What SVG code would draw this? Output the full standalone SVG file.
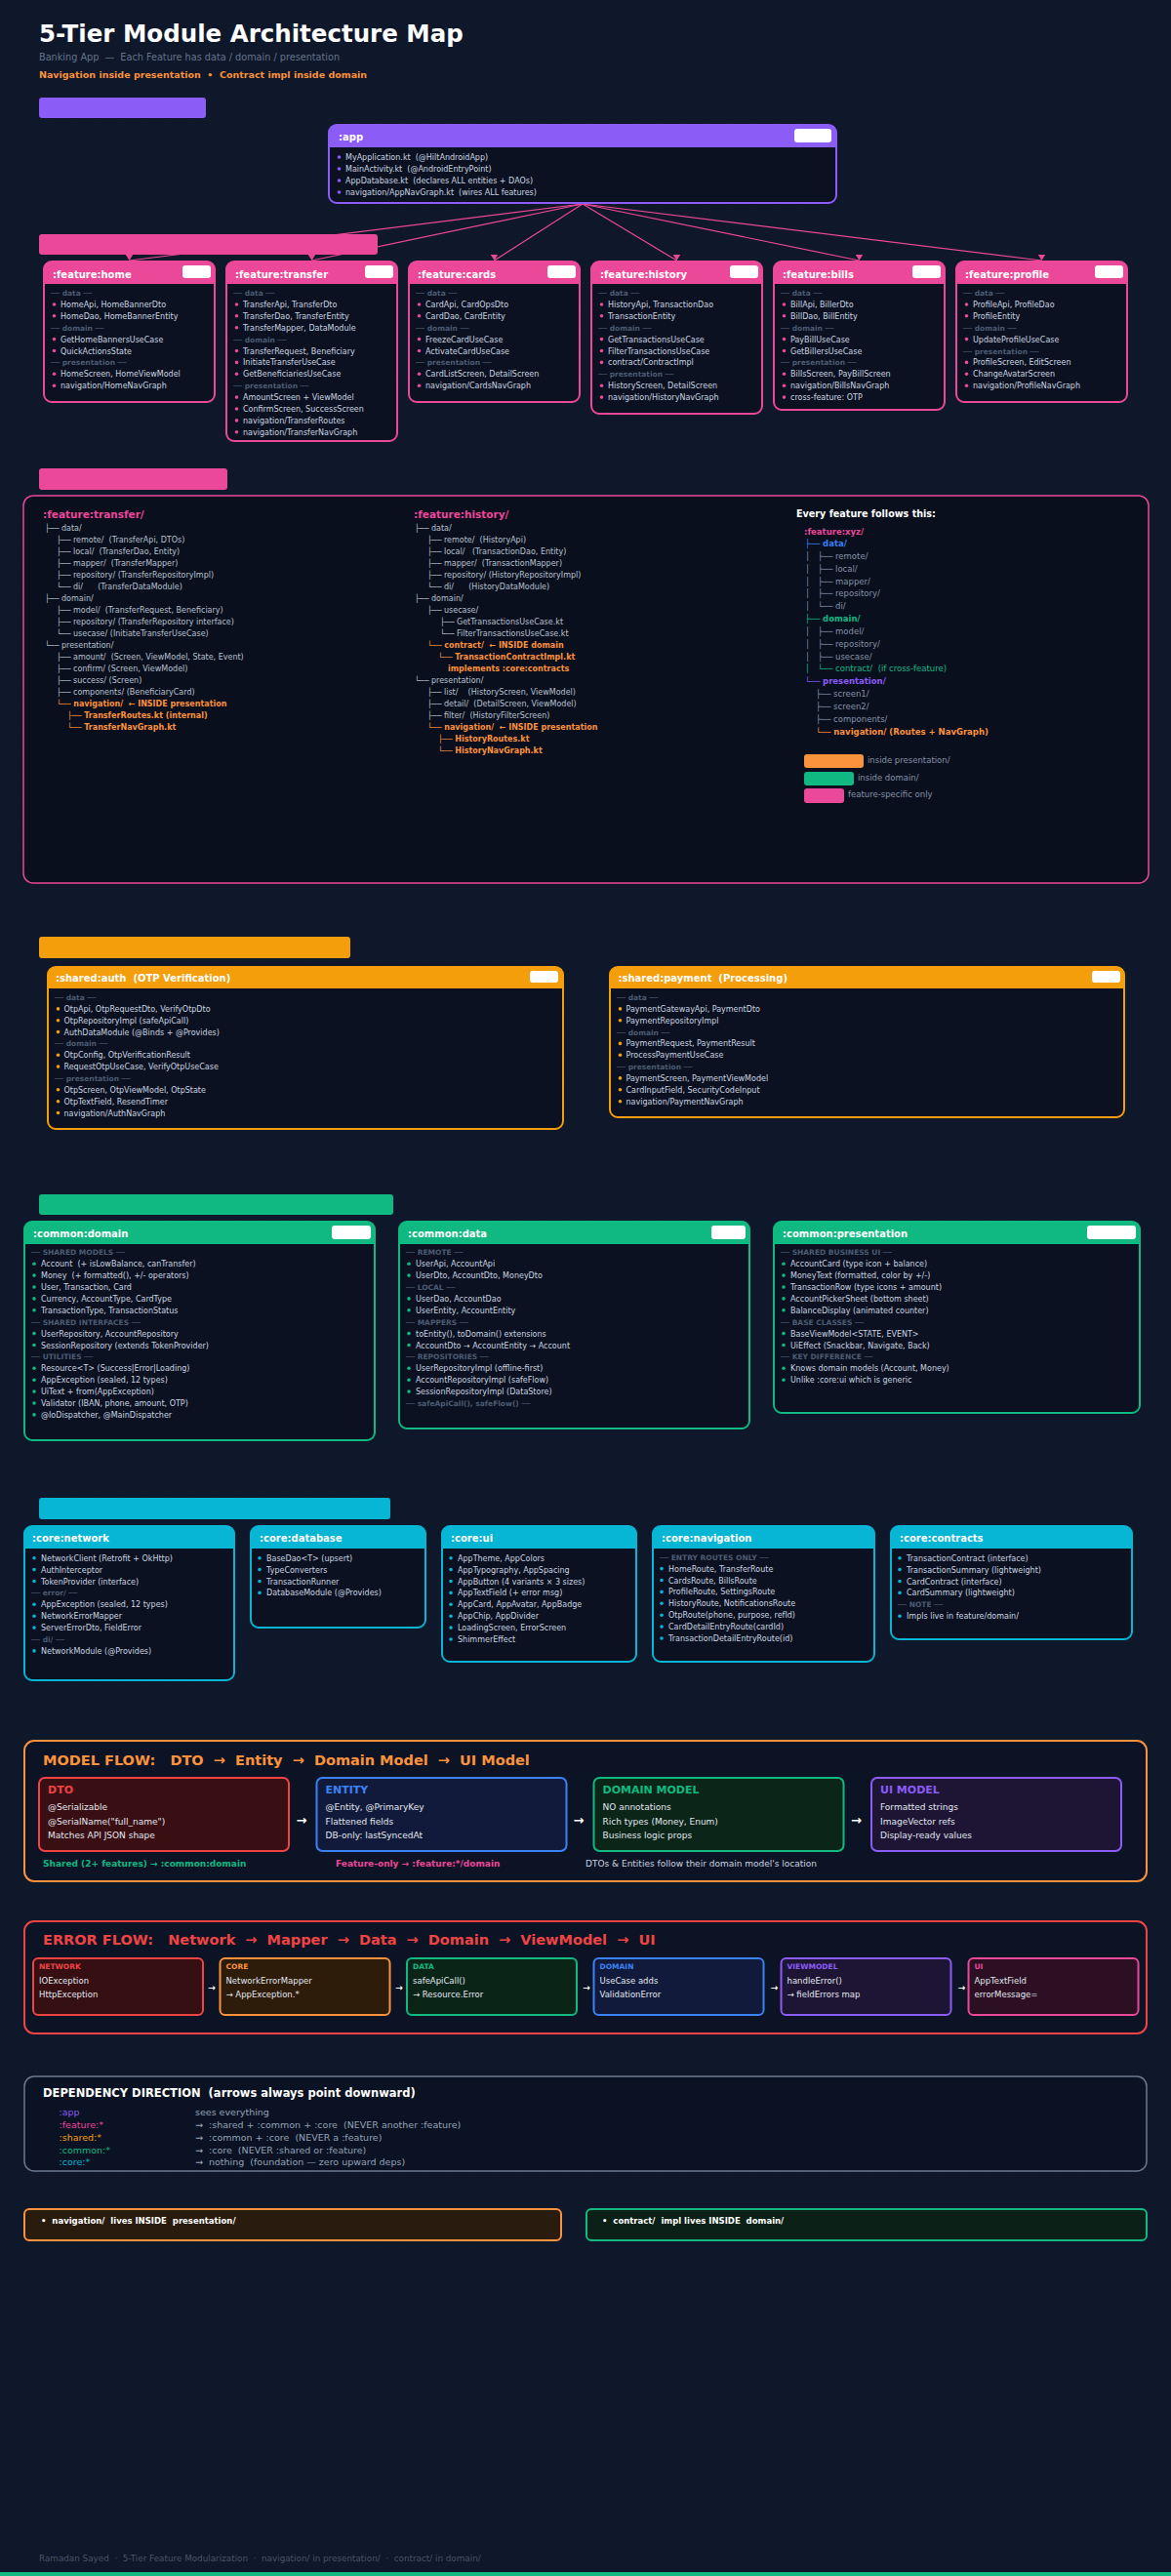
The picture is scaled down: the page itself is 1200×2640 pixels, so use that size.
<svg xmlns="http://www.w3.org/2000/svg" width="1200" height="2640" viewBox="0 0 1200 2640" xml:space="preserve">
<defs>
<style>
text{font-family:'DejaVu Sans','Liberation Sans',sans-serif;white-space:pre}
.t{font-size:8px;fill:#cbd5e1}
.s{font-size:7.5px;fill:#4b5b73;font-weight:bold}
.hd{font-size:10px;font-weight:bold;fill:#fff}
.body{fill:#0b1120}
.pill{fill:#fff}
.dp{fill:#ec4899}.dv{fill:#8b5cf6}.da{fill:#f59e0b}.dg{fill:#10b981}.dc{fill:#06b6d4}
.op{fill:none;stroke:#ec4899;stroke-width:2}
.ov{fill:none;stroke:#8b5cf6;stroke-width:2}
.oa{fill:none;stroke:#f59e0b;stroke-width:2}
.og{fill:none;stroke:#10b981;stroke-width:2}
.oc{fill:none;stroke:#06b6d4;stroke-width:2}
.tr{font-size:8px;fill:#b8c2d0}
.tro{font-size:8px;fill:#fb923c;font-weight:bold}
.tg{font-size:8.5px;fill:#8592a6}
.cl{font-size:9px;fill:#e2e8f0}
.ct{font-size:11px;font-weight:bold}
.el{font-size:8.5px;fill:#e2e8f0}
.et{font-size:7.5px;font-weight:bold}
.arr{font-size:13px;fill:#fff;font-weight:bold;text-anchor:middle}
.arr2{font-size:9px;fill:#fff;font-weight:bold;text-anchor:middle}
.dl{font-size:9.5px}
.dr{font-size:9.5px;fill:#94a3b8}
.conn{stroke:#ec4899;stroke-width:1.2;fill:none}
</style>
<pattern id="grid" width="24" height="24" patternUnits="userSpaceOnUse"><path d="M24 0H0V24" fill="none" stroke="#1a2438" stroke-width="0.6" stroke-dasharray="1 3"/></pattern>
<marker id="ah" markerWidth="8" markerHeight="7" refX="4" refY="6.5" orient="0" markerUnits="userSpaceOnUse"><path d="M0,0 L8,0 L4,6.5 Z" fill="#ec4899"/></marker>
</defs>
<rect width="1200" height="2640" fill="#0f172a"/>
<rect width="1200" height="2640" fill="url(#grid)"/>

<g id="header">
<text x="40" y="43" style="font-size:24.5px;font-weight:bold;fill:#fff">5-Tier Module Architecture Map</text>
<text x="40" y="62" style="font-size:9.7px;fill:#64748b">Banking App  —  Each Feature has data / domain / presentation</text>
<text x="40" y="80" style="font-size:9.5px;font-weight:bold;fill:#fb923c">Navigation inside presentation  •  Contract impl inside domain</text>
</g>

<g id="connectors">
<path class="conn" d="M597,209 L132.5,267" marker-end="url(#ah)"/>
<path class="conn" d="M597,209 L319.5,267" marker-end="url(#ah)"/>
<path class="conn" d="M597,209 L506.5,267" marker-end="url(#ah)"/>
<path class="conn" d="M597,209 L693.5,267" marker-end="url(#ah)"/>
<path class="conn" d="M597,209 L880.5,267" marker-end="url(#ah)"/>
<path class="conn" d="M597,209 L1067.5,267" marker-end="url(#ah)"/>
</g>

<g id="bars">
<rect x="40" y="100" width="171" height="21" rx="3" fill="#8b5cf6"/>
<rect x="40" y="240" width="347" height="21" rx="3" fill="#ec4899"/>
<rect x="40" y="480" width="193" height="22" rx="3" fill="#ec4899"/>
<rect x="40" y="960" width="319" height="22" rx="3" fill="#f59e0b"/>
<rect x="40" y="1224" width="363" height="21" rx="3" fill="#10b981"/>
<rect x="40" y="1535" width="360" height="22" rx="3" fill="#06b6d4"/>
</g>

<g id="app">
<rect class="body" x="337" y="128" width="520" height="80" rx="8"/>
<path class="dv" d="M337,151V136Q337,128 345,128H849Q857,128 857,136V151Z"/>
<rect class="ov" x="337" y="128" width="520" height="80" rx="8"/>
<text class="hd" x="347" y="143.5">:app</text>
<rect class="pill" x="814" y="132" width="38" height="14" rx="3"/>
<circle class="dv" cx="347.5" cy="161" r="1.8"/><text class="t" x="354" y="163.8">MyApplication.kt  (@HiltAndroidApp)</text>
<circle class="dv" cx="347.5" cy="173" r="1.8"/><text class="t" x="354" y="175.8">MainActivity.kt  (@AndroidEntryPoint)</text>
<circle class="dv" cx="347.5" cy="185" r="1.8"/><text class="t" x="354" y="187.8">AppDatabase.kt  (declares ALL entities + DAOs)</text>
<circle class="dv" cx="347.5" cy="197" r="1.8"/><text class="t" x="354" y="199.8">navigation/AppNavGraph.kt  (wires ALL features)</text>
</g>

<g id="feature-home">
<rect class="body" x="45" y="268" width="175" height="144" rx="8"/>
<path class="dp" d="M45,291V276Q45,268 53,268H212Q220,268 220,276V291Z"/>
<rect class="op" x="45" y="268" width="175" height="144" rx="8"/>
<text class="hd" x="54" y="284.5">:feature:home</text>
<rect class="pill" x="187" y="272" width="29" height="13" rx="3"/>
<text class="s" x="52" y="303">── data ──</text>
<circle class="dp" cx="55.5" cy="312" r="1.8"/><text class="t" x="62" y="314.9">HomeApi, HomeBannerDto</text>
<circle class="dp" cx="55.5" cy="323.8" r="1.8"/><text class="t" x="62" y="326.8">HomeDao, HomeBannerEntity</text>
<text class="s" x="52" y="338.7">── domain ──</text>
<circle class="dp" cx="55.5" cy="347.6" r="1.8"/><text class="t" x="62" y="350.6">GetHomeBannersUseCase</text>
<circle class="dp" cx="55.5" cy="359.5" r="1.8"/><text class="t" x="62" y="362.5">QuickActionsState</text>
<text class="s" x="52" y="374.4">── presentation ──</text>
<circle class="dp" cx="55.5" cy="383.3" r="1.8"/><text class="t" x="62" y="386.3">HomeScreen, HomeViewModel</text>
<circle class="dp" cx="55.5" cy="395.2" r="1.8"/><text class="t" x="62" y="398.2">navigation/HomeNavGraph</text>
</g>

<g id="feature-transfer">
<rect class="body" x="232" y="268" width="175" height="184" rx="8"/>
<path class="dp" d="M232,291V276Q232,268 240,268H399Q407,268 407,276V291Z"/>
<rect class="op" x="232" y="268" width="175" height="184" rx="8"/>
<text class="hd" x="241" y="284.5">:feature:transfer</text>
<rect class="pill" x="374" y="272" width="29" height="13" rx="3"/>
<text class="s" x="239" y="303">── data ──</text>
<circle class="dp" cx="242.5" cy="312" r="1.8"/><text class="t" x="249" y="314.9">TransferApi, TransferDto</text>
<circle class="dp" cx="242.5" cy="323.8" r="1.8"/><text class="t" x="249" y="326.8">TransferDao, TransferEntity</text>
<circle class="dp" cx="242.5" cy="335.7" r="1.8"/><text class="t" x="249" y="338.7">TransferMapper, DataModule</text>
<text class="s" x="239" y="350.6">── domain ──</text>
<circle class="dp" cx="242.5" cy="359.5" r="1.8"/><text class="t" x="249" y="362.5">TransferRequest, Beneficiary</text>
<circle class="dp" cx="242.5" cy="371.4" r="1.8"/><text class="t" x="249" y="374.4">InitiateTransferUseCase</text>
<circle class="dp" cx="242.5" cy="383.3" r="1.8"/><text class="t" x="249" y="386.3">GetBeneficiariesUseCase</text>
<text class="s" x="239" y="398.2">── presentation ──</text>
<circle class="dp" cx="242.5" cy="407.1" r="1.8"/><text class="t" x="249" y="410.1">AmountScreen + ViewModel</text>
<circle class="dp" cx="242.5" cy="419" r="1.8"/><text class="t" x="249" y="422">ConfirmScreen, SuccessScreen</text>
<circle class="dp" cx="242.5" cy="430.9" r="1.8"/><text class="t" x="249" y="433.9">navigation/TransferRoutes</text>
<circle class="dp" cx="242.5" cy="442.8" r="1.8"/><text class="t" x="249" y="445.8">navigation/TransferNavGraph</text>
</g>

<g id="feature-cards">
<rect class="body" x="419" y="268" width="175" height="144" rx="8"/>
<path class="dp" d="M419,291V276Q419,268 427,268H586Q594,268 594,276V291Z"/>
<rect class="op" x="419" y="268" width="175" height="144" rx="8"/>
<text class="hd" x="428" y="284.5">:feature:cards</text>
<rect class="pill" x="561" y="272" width="29" height="13" rx="3"/>
<text class="s" x="426" y="303">── data ──</text>
<circle class="dp" cx="429.5" cy="312" r="1.8"/><text class="t" x="436" y="314.9">CardApi, CardOpsDto</text>
<circle class="dp" cx="429.5" cy="323.8" r="1.8"/><text class="t" x="436" y="326.8">CardDao, CardEntity</text>
<text class="s" x="426" y="338.7">── domain ──</text>
<circle class="dp" cx="429.5" cy="347.6" r="1.8"/><text class="t" x="436" y="350.6">FreezeCardUseCase</text>
<circle class="dp" cx="429.5" cy="359.5" r="1.8"/><text class="t" x="436" y="362.5">ActivateCardUseCase</text>
<text class="s" x="426" y="374.4">── presentation ──</text>
<circle class="dp" cx="429.5" cy="383.3" r="1.8"/><text class="t" x="436" y="386.3">CardListScreen, DetailScreen</text>
<circle class="dp" cx="429.5" cy="395.2" r="1.8"/><text class="t" x="436" y="398.2">navigation/CardsNavGraph</text>
</g>

<g id="feature-history">
<rect class="body" x="606" y="268" width="175" height="156" rx="8"/>
<path class="dp" d="M606,291V276Q606,268 614,268H773Q781,268 781,276V291Z"/>
<rect class="op" x="606" y="268" width="175" height="156" rx="8"/>
<text class="hd" x="615" y="284.5">:feature:history</text>
<rect class="pill" x="748" y="272" width="29" height="13" rx="3"/>
<text class="s" x="613" y="303">── data ──</text>
<circle class="dp" cx="616.5" cy="312" r="1.8"/><text class="t" x="623" y="314.9">HistoryApi, TransactionDao</text>
<circle class="dp" cx="616.5" cy="323.8" r="1.8"/><text class="t" x="623" y="326.8">TransactionEntity</text>
<text class="s" x="613" y="338.7">── domain ──</text>
<circle class="dp" cx="616.5" cy="347.6" r="1.8"/><text class="t" x="623" y="350.6">GetTransactionsUseCase</text>
<circle class="dp" cx="616.5" cy="359.5" r="1.8"/><text class="t" x="623" y="362.5">FilterTransactionsUseCase</text>
<circle class="dp" cx="616.5" cy="371.4" r="1.8"/><text class="t" x="623" y="374.4">contract/ContractImpl</text>
<text class="s" x="613" y="386.3">── presentation ──</text>
<circle class="dp" cx="616.5" cy="395.2" r="1.8"/><text class="t" x="623" y="398.2">HistoryScreen, DetailScreen</text>
<circle class="dp" cx="616.5" cy="407.1" r="1.8"/><text class="t" x="623" y="410.1">navigation/HistoryNavGraph</text>
</g>

<g id="feature-bills">
<rect class="body" x="793" y="268" width="175" height="152" rx="8"/>
<path class="dp" d="M793,291V276Q793,268 801,268H960Q968,268 968,276V291Z"/>
<rect class="op" x="793" y="268" width="175" height="152" rx="8"/>
<text class="hd" x="802" y="284.5">:feature:bills</text>
<rect class="pill" x="935" y="272" width="29" height="13" rx="3"/>
<text class="s" x="800" y="303">── data ──</text>
<circle class="dp" cx="803.5" cy="312" r="1.8"/><text class="t" x="810" y="314.9">BillApi, BillerDto</text>
<circle class="dp" cx="803.5" cy="323.8" r="1.8"/><text class="t" x="810" y="326.8">BillDao, BillEntity</text>
<text class="s" x="800" y="338.7">── domain ──</text>
<circle class="dp" cx="803.5" cy="347.6" r="1.8"/><text class="t" x="810" y="350.6">PayBillUseCase</text>
<circle class="dp" cx="803.5" cy="359.5" r="1.8"/><text class="t" x="810" y="362.5">GetBillersUseCase</text>
<text class="s" x="800" y="374.4">── presentation ──</text>
<circle class="dp" cx="803.5" cy="383.3" r="1.8"/><text class="t" x="810" y="386.3">BillsScreen, PayBillScreen</text>
<circle class="dp" cx="803.5" cy="395.2" r="1.8"/><text class="t" x="810" y="398.2">navigation/BillsNavGraph</text>
<circle class="dp" cx="803.5" cy="407.1" r="1.8"/><text class="t" x="810" y="410.1">cross-feature: OTP</text>
</g>

<g id="feature-profile">
<rect class="body" x="980" y="268" width="175" height="144" rx="8"/>
<path class="dp" d="M980,291V276Q980,268 988,268H1147Q1155,268 1155,276V291Z"/>
<rect class="op" x="980" y="268" width="175" height="144" rx="8"/>
<text class="hd" x="989" y="284.5">:feature:profile</text>
<rect class="pill" x="1122" y="272" width="29" height="13" rx="3"/>
<text class="s" x="987" y="303">── data ──</text>
<circle class="dp" cx="990.5" cy="312" r="1.8"/><text class="t" x="997" y="314.9">ProfileApi, ProfileDao</text>
<circle class="dp" cx="990.5" cy="323.8" r="1.8"/><text class="t" x="997" y="326.8">ProfileEntity</text>
<text class="s" x="987" y="338.7">── domain ──</text>
<circle class="dp" cx="990.5" cy="347.6" r="1.8"/><text class="t" x="997" y="350.6">UpdateProfileUseCase</text>
<text class="s" x="987" y="362.5">── presentation ──</text>
<circle class="dp" cx="990.5" cy="371.4" r="1.8"/><text class="t" x="997" y="374.4">ProfileScreen, EditScreen</text>
<circle class="dp" cx="990.5" cy="383.3" r="1.8"/><text class="t" x="997" y="386.3">ChangeAvatarScreen</text>
<circle class="dp" cx="990.5" cy="395.2" r="1.8"/><text class="t" x="997" y="398.2">navigation/ProfileNavGraph</text>
</g>

<g id="feature-structure">
<rect x="24" y="508" width="1153" height="397" rx="10" fill="#0a0f1e" stroke="#ec4899" stroke-width="1.5"/>
<text x="44" y="530.5" style="font-size:10.5px;font-weight:bold;fill:#ec4899">:feature:transfer/</text>
<text class="tr" x="46" y="544">├── data/</text>
<text class="tr" x="58" y="556">├── remote/  (TransferApi, DTOs)</text>
<text class="tr" x="58" y="568">├── local/  (TransferDao, Entity)</text>
<text class="tr" x="58" y="580">├── mapper/  (TransferMapper)</text>
<text class="tr" x="58" y="592">├── repository/ (TransferRepositoryImpl)</text>
<text class="tr" x="58" y="604">└── di/      (TransferDataModule)</text>
<text class="tr" x="46" y="616">├── domain/</text>
<text class="tr" x="58" y="628">├── model/  (TransferRequest, Beneficiary)</text>
<text class="tr" x="58" y="640">├── repository/ (TransferRepository interface)</text>
<text class="tr" x="58" y="652">└── usecase/ (InitiateTransferUseCase)</text>
<text class="tr" x="46" y="664">└── presentation/</text>
<text class="tr" x="58" y="676">├── amount/  (Screen, ViewModel, State, Event)</text>
<text class="tr" x="58" y="688">├── confirm/ (Screen, ViewModel)</text>
<text class="tr" x="58" y="700">├── success/ (Screen)</text>
<text class="tr" x="58" y="712">├── components/ (BeneficiaryCard)</text>
<text class="tro" x="58" y="724">└── navigation/  ← INSIDE presentation</text>
<text class="tro" x="69" y="736">├── TransferRoutes.kt (internal)</text>
<text class="tro" x="69" y="748">└── TransferNavGraph.kt</text>

<text x="424" y="530.5" style="font-size:10.5px;font-weight:bold;fill:#ec4899">:feature:history/</text>
<text class="tr" x="425" y="544">├── data/</text>
<text class="tr" x="438" y="556">├── remote/  (HistoryApi)</text>
<text class="tr" x="438" y="568">├── local/   (TransactionDao, Entity)</text>
<text class="tr" x="438" y="580">├── mapper/  (TransactionMapper)</text>
<text class="tr" x="438" y="592">├── repository/ (HistoryRepositoryImpl)</text>
<text class="tr" x="438" y="604">└── di/      (HistoryDataModule)</text>
<text class="tr" x="425" y="616">├── domain/</text>
<text class="tr" x="438" y="628">├── usecase/</text>
<text class="tr" x="451" y="640">├── GetTransactionsUseCase.kt</text>
<text class="tr" x="451" y="652">└── FilterTransactionsUseCase.kt</text>
<text class="tro" x="438" y="664">└── contract/  ← INSIDE domain</text>
<text class="tro" x="449" y="676">└── TransactionContractImpl.kt</text>
<text class="tro" x="459" y="688">implements :core:contracts</text>
<text class="tr" x="425" y="700">└── presentation/</text>
<text class="tr" x="438" y="712">├── list/    (HistoryScreen, ViewModel)</text>
<text class="tr" x="438" y="724">├── detail/  (DetailScreen, ViewModel)</text>
<text class="tr" x="438" y="736">├── filter/  (HistoryFilterScreen)</text>
<text class="tro" x="438" y="748">└── navigation/  ← INSIDE presentation</text>
<text class="tro" x="449" y="760">├── HistoryRoutes.kt</text>
<text class="tro" x="449" y="772">└── HistoryNavGraph.kt</text>

<text x="816" y="530" style="font-size:9.6px;font-weight:bold;fill:#fff">Every feature follows this:</text>
<text x="824" y="547.5" style="font-size:8.5px;font-weight:bold;fill:#ec4899">:feature:xyz/</text>
<text x="825" y="560" style="font-size:8.5px;fill:#3b82f6">├── <tspan font-weight="bold">data/</tspan></text>
<text class="tg" x="825" y="572.8">│<tspan x="838">├── remote/</tspan></text>
<text class="tg" x="825" y="585.7">│<tspan x="838">├── local/</tspan></text>
<text class="tg" x="825" y="598.5">│<tspan x="838">├── mapper/</tspan></text>
<text class="tg" x="825" y="611.3">│<tspan x="838">├── repository/</tspan></text>
<text class="tg" x="825" y="624.2">│<tspan x="838">└── di/</tspan></text>
<text x="825" y="637" style="font-size:8.5px;fill:#10b981">├── <tspan font-weight="bold">domain/</tspan></text>
<text class="tg" x="825" y="649.8">│<tspan x="838">├── model/</tspan></text>
<text class="tg" x="825" y="662.7">│<tspan x="838">├── repository/</tspan></text>
<text class="tg" x="825" y="675.5">│<tspan x="838">├── usecase/</tspan></text>
<text x="825" y="688.3" style="font-size:8.5px;fill:#10b981">│<tspan x="838">└── contract/  (if cross-feature)</tspan></text>
<text x="825" y="701.1" style="font-size:8.5px;fill:#8b5cf6">└── <tspan font-weight="bold">presentation/</tspan></text>
<text class="tg" x="836" y="714">├── screen1/</text>
<text class="tg" x="836" y="726.8">├── screen2/</text>
<text class="tg" x="836" y="739.6">├── components/</text>
<text x="836" y="752.5" style="font-size:8.5px;fill:#fb923c;font-weight:bold">└── navigation/ (Routes + NavGraph)</text>
<rect x="824" y="773" width="61" height="14" rx="3" fill="#fb923c"/>
<text class="tg" x="889" y="782">inside presentation/</text>
<rect x="824" y="791" width="51" height="14" rx="3" fill="#10b981"/>
<text class="tg" x="879" y="800">inside domain/</text>
<rect x="824" y="808" width="41" height="15" rx="3" fill="#ec4899"/>
<text class="tg" x="869" y="817">feature-specific only</text>
</g>

<g id="shared-auth">
<rect class="body" x="49" y="991" width="528" height="166" rx="8"/>
<path class="da" d="M49,1013V999Q49,991 57,991H569Q577,991 577,999V1013Z"/>
<rect class="oa" x="49" y="991" width="528" height="166" rx="8"/>
<text class="hd" x="57" y="1006">:shared:auth  (OTP Verification)</text>
<rect class="pill" x="543" y="995" width="29" height="12" rx="3"/>
<text class="s" x="56" y="1025">── data ──</text>
<circle class="da" cx="59.5" cy="1033.9" r="1.8"/><text class="t" x="65.5" y="1036.9">OtpApi, OtpRequestDto, VerifyOtpDto</text>
<circle class="da" cx="59.5" cy="1045.7" r="1.8"/><text class="t" x="65.5" y="1048.7">OtpRepositoryImpl (safeApiCall)</text>
<circle class="da" cx="59.5" cy="1057.6" r="1.8"/><text class="t" x="65.5" y="1060.6">AuthDataModule (@Binds + @Provides)</text>
<text class="s" x="56" y="1072.4">── domain ──</text>
<circle class="da" cx="59.5" cy="1081.3" r="1.8"/><text class="t" x="65.5" y="1084.3">OtpConfig, OtpVerificationResult</text>
<circle class="da" cx="59.5" cy="1093.1" r="1.8"/><text class="t" x="65.5" y="1096.1">RequestOtpUseCase, VerifyOtpUseCase</text>
<text class="s" x="56" y="1108">── presentation ──</text>
<circle class="da" cx="59.5" cy="1116.8" r="1.8"/><text class="t" x="65.5" y="1119.8">OtpScreen, OtpViewModel, OtpState</text>
<circle class="da" cx="59.5" cy="1128.7" r="1.8"/><text class="t" x="65.5" y="1131.7">OtpTextField, ResendTimer</text>
<circle class="da" cx="59.5" cy="1140.5" r="1.8"/><text class="t" x="65.5" y="1143.5">navigation/AuthNavGraph</text>
</g>

<g id="shared-payment">
<rect class="body" x="625" y="991" width="527" height="154" rx="8"/>
<path class="da" d="M625,1013V999Q625,991 633,991H1144Q1152,991 1152,999V1013Z"/>
<rect class="oa" x="625" y="991" width="527" height="154" rx="8"/>
<text class="hd" x="633.5" y="1006">:shared:payment  (Processing)</text>
<rect class="pill" x="1119" y="995" width="29" height="12" rx="3"/>
<text class="s" x="632" y="1025">── data ──</text>
<circle class="da" cx="635.5" cy="1033.9" r="1.8"/><text class="t" x="641.5" y="1036.9">PaymentGatewayApi, PaymentDto</text>
<circle class="da" cx="635.5" cy="1045.7" r="1.8"/><text class="t" x="641.5" y="1048.7">PaymentRepositoryImpl</text>
<text class="s" x="632" y="1060.6">── domain ──</text>
<circle class="da" cx="635.5" cy="1069.4" r="1.8"/><text class="t" x="641.5" y="1072.4">PaymentRequest, PaymentResult</text>
<circle class="da" cx="635.5" cy="1081.3" r="1.8"/><text class="t" x="641.5" y="1084.3">ProcessPaymentUseCase</text>
<text class="s" x="632" y="1096.1">── presentation ──</text>
<circle class="da" cx="635.5" cy="1104.9" r="1.8"/><text class="t" x="641.5" y="1108">PaymentScreen, PaymentViewModel</text>
<circle class="da" cx="635.5" cy="1116.8" r="1.8"/><text class="t" x="641.5" y="1119.8">CardInputField, SecurityCodeInput</text>
<circle class="da" cx="635.5" cy="1128.7" r="1.8"/><text class="t" x="641.5" y="1131.7">navigation/PaymentNavGraph</text>
</g>

<g id="common-domain">
<rect class="body" x="25" y="1252" width="359" height="224" rx="8"/>
<path class="dg" d="M25,1275V1260Q25,1252 33,1252H376Q384,1252 384,1260V1275Z"/>
<rect class="og" x="25" y="1252" width="359" height="224" rx="8"/>
<text class="hd" x="34" y="1267.5">:common:domain</text>
<rect class="pill" x="340" y="1256" width="40" height="14" rx="3"/>
<text class="s" x="32" y="1286.3">── SHARED MODELS ──</text>
<circle class="dg" cx="35" cy="1295.2" r="1.8"/><text class="t" x="42" y="1298.2">Account  (+ isLowBalance, canTransfer)</text>
<circle class="dg" cx="35" cy="1307.1" r="1.8"/><text class="t" x="42" y="1310.1">Money  (+ formatted(), +/- operators)</text>
<circle class="dg" cx="35" cy="1319" r="1.8"/><text class="t" x="42" y="1322">User, Transaction, Card</text>
<circle class="dg" cx="35" cy="1330.9" r="1.8"/><text class="t" x="42" y="1333.9">Currency, AccountType, CardType</text>
<circle class="dg" cx="35" cy="1342.8" r="1.8"/><text class="t" x="42" y="1345.8">TransactionType, TransactionStatus</text>
<text class="s" x="32" y="1357.7">── SHARED INTERFACES ──</text>
<circle class="dg" cx="35" cy="1366.6" r="1.8"/><text class="t" x="42" y="1369.6">UserRepository, AccountRepository</text>
<circle class="dg" cx="35" cy="1378.5" r="1.8"/><text class="t" x="42" y="1381.5">SessionRepository (extends TokenProvider)</text>
<text class="s" x="32" y="1393.4">── UTILITIES ──</text>
<circle class="dg" cx="35" cy="1402.3" r="1.8"/><text class="t" x="42" y="1405.3">Resource&lt;T&gt; (Success|Error|Loading)</text>
<circle class="dg" cx="35" cy="1414.2" r="1.8"/><text class="t" x="42" y="1417.2">AppException (sealed, 12 types)</text>
<circle class="dg" cx="35" cy="1426.1" r="1.8"/><text class="t" x="42" y="1429.1">UiText + from(AppException)</text>
<circle class="dg" cx="35" cy="1438" r="1.8"/><text class="t" x="42" y="1441">Validator (IBAN, phone, amount, OTP)</text>
<circle class="dg" cx="35" cy="1449.9" r="1.8"/><text class="t" x="42" y="1452.9">@IoDispatcher, @MainDispatcher</text>
</g>

<g id="common-data">
<rect class="body" x="409" y="1252" width="359" height="212" rx="8"/>
<path class="dg" d="M409,1275V1260Q409,1252 417,1252H760Q768,1252 768,1260V1275Z"/>
<rect class="og" x="409" y="1252" width="359" height="212" rx="8"/>
<text class="hd" x="418" y="1267.5">:common:data</text>
<rect class="pill" x="729" y="1256" width="35" height="14" rx="3"/>
<text class="s" x="416" y="1286.3">── REMOTE ──</text>
<circle class="dg" cx="419" cy="1295.2" r="1.8"/><text class="t" x="426" y="1298.2">UserApi, AccountApi</text>
<circle class="dg" cx="419" cy="1307.1" r="1.8"/><text class="t" x="426" y="1310.1">UserDto, AccountDto, MoneyDto</text>
<text class="s" x="416" y="1322">── LOCAL ──</text>
<circle class="dg" cx="419" cy="1330.9" r="1.8"/><text class="t" x="426" y="1333.9">UserDao, AccountDao</text>
<circle class="dg" cx="419" cy="1342.8" r="1.8"/><text class="t" x="426" y="1345.8">UserEntity, AccountEntity</text>
<text class="s" x="416" y="1357.7">── MAPPERS ──</text>
<circle class="dg" cx="419" cy="1366.6" r="1.8"/><text class="t" x="426" y="1369.6">toEntity(), toDomain() extensions</text>
<circle class="dg" cx="419" cy="1378.5" r="1.8"/><text class="t" x="426" y="1381.5">AccountDto → AccountEntity → Account</text>
<text class="s" x="416" y="1393.4">── REPOSITORIES ──</text>
<circle class="dg" cx="419" cy="1402.3" r="1.8"/><text class="t" x="426" y="1405.3">UserRepositoryImpl (offline-first)</text>
<circle class="dg" cx="419" cy="1414.2" r="1.8"/><text class="t" x="426" y="1417.2">AccountRepositoryImpl (safeFlow)</text>
<circle class="dg" cx="419" cy="1426.1" r="1.8"/><text class="t" x="426" y="1429.1">SessionRepositoryImpl (DataStore)</text>
<text class="s" x="416" y="1441">── safeApiCall(), safeFlow() ──</text>
</g>

<g id="common-presentation">
<rect class="body" x="793" y="1252" width="375" height="196" rx="8"/>
<path class="dg" d="M793,1275V1260Q793,1252 801,1252H1160Q1168,1252 1168,1260V1275Z"/>
<rect class="og" x="793" y="1252" width="375" height="196" rx="8"/>
<text class="hd" x="802" y="1267.5">:common:presentation</text>
<rect class="pill" x="1114" y="1256" width="50" height="14" rx="3"/>
<text class="s" x="800" y="1286.3">── SHARED BUSINESS UI ──</text>
<circle class="dg" cx="803" cy="1295.2" r="1.8"/><text class="t" x="810" y="1298.2">AccountCard (type icon + balance)</text>
<circle class="dg" cx="803" cy="1307.1" r="1.8"/><text class="t" x="810" y="1310.1">MoneyText (formatted, color by +/-)</text>
<circle class="dg" cx="803" cy="1319" r="1.8"/><text class="t" x="810" y="1322">TransactionRow (type icons + amount)</text>
<circle class="dg" cx="803" cy="1330.9" r="1.8"/><text class="t" x="810" y="1333.9">AccountPickerSheet (bottom sheet)</text>
<circle class="dg" cx="803" cy="1342.8" r="1.8"/><text class="t" x="810" y="1345.8">BalanceDisplay (animated counter)</text>
<text class="s" x="800" y="1357.7">── BASE CLASSES ──</text>
<circle class="dg" cx="803" cy="1366.6" r="1.8"/><text class="t" x="810" y="1369.6">BaseViewModel&lt;STATE, EVENT&gt;</text>
<circle class="dg" cx="803" cy="1378.5" r="1.8"/><text class="t" x="810" y="1381.5">UiEffect (Snackbar, Navigate, Back)</text>
<text class="s" x="800" y="1393.4">── KEY DIFFERENCE ──</text>
<circle class="dg" cx="803" cy="1402.3" r="1.8"/><text class="t" x="810" y="1405.3">Knows domain models (Account, Money)</text>
<circle class="dg" cx="803" cy="1414.2" r="1.8"/><text class="t" x="810" y="1417.2">Unlike :core:ui which is generic</text>
</g>

<g id="core-network">
<rect class="body" x="25" y="1564" width="215" height="158" rx="8"/>
<path class="dc" d="M25,1587V1572Q25,1564 33,1564H232Q240,1564 240,1572V1587Z"/>
<rect class="oc" x="25" y="1564" width="215" height="158" rx="8"/>
<text class="hd" x="33" y="1579.5">:core:network</text>
<circle class="dc" cx="35" cy="1596.7" r="1.8"/><text class="t" x="42" y="1599.7">NetworkClient (Retrofit + OkHttp)</text>
<circle class="dc" cx="35" cy="1608.6" r="1.8"/><text class="t" x="42" y="1611.6">AuthInterceptor</text>
<circle class="dc" cx="35" cy="1620.5" r="1.8"/><text class="t" x="42" y="1623.5">TokenProvider (interface)</text>
<text class="s" x="32" y="1635.4">── error/ ──</text>
<circle class="dc" cx="35" cy="1644.3" r="1.8"/><text class="t" x="42" y="1647.3">AppException (sealed, 12 types)</text>
<circle class="dc" cx="35" cy="1656.2" r="1.8"/><text class="t" x="42" y="1659.2">NetworkErrorMapper</text>
<circle class="dc" cx="35" cy="1668.1" r="1.8"/><text class="t" x="42" y="1671.1">ServerErrorDto, FieldError</text>
<text class="s" x="32" y="1683">── di/ ──</text>
<circle class="dc" cx="35" cy="1691.9" r="1.8"/><text class="t" x="42" y="1694.9">NetworkModule (@Provides)</text>
</g>

<g id="core-database">
<rect class="body" x="257" y="1564" width="179" height="104" rx="8"/>
<path class="dc" d="M257,1587V1572Q257,1564 265,1564H428Q436,1564 436,1572V1587Z"/>
<rect class="oc" x="257" y="1564" width="179" height="104" rx="8"/>
<text class="hd" x="266" y="1579.5">:core:database</text>
<circle class="dc" cx="266" cy="1596.7" r="1.8"/><text class="t" x="273" y="1599.7">BaseDao&lt;T&gt; (upsert)</text>
<circle class="dc" cx="266" cy="1608.6" r="1.8"/><text class="t" x="273" y="1611.6">TypeConverters</text>
<circle class="dc" cx="266" cy="1620.5" r="1.8"/><text class="t" x="273" y="1623.5">TransactionRunner</text>
<circle class="dc" cx="266" cy="1632.4" r="1.8"/><text class="t" x="273" y="1635.4">DatabaseModule (@Provides)</text>
</g>

<g id="core-ui">
<rect class="body" x="453" y="1564" width="199" height="139" rx="8"/>
<path class="dc" d="M453,1587V1572Q453,1564 461,1564H644Q652,1564 652,1572V1587Z"/>
<rect class="oc" x="453" y="1564" width="199" height="139" rx="8"/>
<text class="hd" x="462" y="1579.5">:core:ui</text>
<circle class="dc" cx="462" cy="1596.7" r="1.8"/><text class="t" x="469" y="1599.7">AppTheme, AppColors</text>
<circle class="dc" cx="462" cy="1608.6" r="1.8"/><text class="t" x="469" y="1611.6">AppTypography, AppSpacing</text>
<circle class="dc" cx="462" cy="1620.5" r="1.8"/><text class="t" x="469" y="1623.5">AppButton (4 variants × 3 sizes)</text>
<circle class="dc" cx="462" cy="1632.4" r="1.8"/><text class="t" x="469" y="1635.4">AppTextField (+ error msg)</text>
<circle class="dc" cx="462" cy="1644.3" r="1.8"/><text class="t" x="469" y="1647.3">AppCard, AppAvatar, AppBadge</text>
<circle class="dc" cx="462" cy="1656.2" r="1.8"/><text class="t" x="469" y="1659.2">AppChip, AppDivider</text>
<circle class="dc" cx="462" cy="1668.1" r="1.8"/><text class="t" x="469" y="1671.1">LoadingScreen, ErrorScreen</text>
<circle class="dc" cx="462" cy="1680" r="1.8"/><text class="t" x="469" y="1683">ShimmerEffect</text>
</g>

<g id="core-navigation">
<rect class="body" x="669" y="1564" width="227" height="139" rx="8"/>
<path class="dc" d="M669,1587V1572Q669,1564 677,1564H888Q896,1564 896,1572V1587Z"/>
<rect class="oc" x="669" y="1564" width="227" height="139" rx="8"/>
<text class="hd" x="678" y="1579.5">:core:navigation</text>
<text class="s" x="676" y="1598.7">── ENTRY ROUTES ONLY ──</text>
<circle class="dc" cx="678" cy="1607.6" r="1.8"/><text class="t" x="685" y="1610.6">HomeRoute, TransferRoute</text>
<circle class="dc" cx="678" cy="1619.5" r="1.8"/><text class="t" x="685" y="1622.5">CardsRoute, BillsRoute</text>
<circle class="dc" cx="678" cy="1631.4" r="1.8"/><text class="t" x="685" y="1634.4">ProfileRoute, SettingsRoute</text>
<circle class="dc" cx="678" cy="1643.3" r="1.8"/><text class="t" x="685" y="1646.3">HistoryRoute, NotificationsRoute</text>
<circle class="dc" cx="678" cy="1655.2" r="1.8"/><text class="t" x="685" y="1658.2">OtpRoute(phone, purpose, refId)</text>
<circle class="dc" cx="678" cy="1667.1" r="1.8"/><text class="t" x="685" y="1670.1">CardDetailEntryRoute(cardId)</text>
<circle class="dc" cx="678" cy="1679" r="1.8"/><text class="t" x="685" y="1682">TransactionDetailEntryRoute(id)</text>
</g>

<g id="core-contracts">
<rect class="body" x="913" y="1564" width="247" height="116" rx="8"/>
<path class="dc" d="M913,1587V1572Q913,1564 921,1564H1152Q1160,1564 1160,1572V1587Z"/>
<rect class="oc" x="913" y="1564" width="247" height="116" rx="8"/>
<text class="hd" x="922" y="1579.5">:core:contracts</text>
<circle class="dc" cx="922" cy="1596.7" r="1.8"/><text class="t" x="929" y="1599.7">TransactionContract (interface)</text>
<circle class="dc" cx="922" cy="1608.6" r="1.8"/><text class="t" x="929" y="1611.6">TransactionSummary (lightweight)</text>
<circle class="dc" cx="922" cy="1620.5" r="1.8"/><text class="t" x="929" y="1623.5">CardContract (interface)</text>
<circle class="dc" cx="922" cy="1632.4" r="1.8"/><text class="t" x="929" y="1635.4">CardSummary (lightweight)</text>
<text class="s" x="920" y="1647.3">── NOTE ──</text>
<circle class="dc" cx="922" cy="1656.2" r="1.8"/><text class="t" x="929" y="1659.2">Impls live in feature/domain/</text>
</g>

<g id="model-flow">
<rect x="25" y="1784" width="1150" height="144" rx="10" fill="#0c1324" stroke="#fb923c" stroke-width="2"/>
<text x="44" y="1809" style="font-size:14.5px;font-weight:bold;fill:#fb923c">MODEL FLOW:   DTO  →  Entity  →  Domain Model  →  UI Model</text>
<rect x="40" y="1822" width="256" height="75" rx="6" fill="#3a0f14" stroke="#ef4444" stroke-width="2"/>
<text class="ct" x="49" y="1838" fill="#ef4444">DTO</text>
<text class="cl" x="49" y="1855.3">@Serializable</text>
<text class="cl" x="49" y="1870">@SerialName("full_name")</text>
<text class="cl" x="49" y="1884.3">Matches API JSON shape</text>
<text class="arr" x="309" y="1869.5">→</text>
<rect x="324.5" y="1822" width="256" height="75" rx="6" fill="#111a3a" stroke="#3b82f6" stroke-width="2"/>
<text class="ct" x="333.5" y="1838" fill="#3b82f6">ENTITY</text>
<text class="cl" x="333.5" y="1855.3">@Entity, @PrimaryKey</text>
<text class="cl" x="333.5" y="1870">Flattened fields</text>
<text class="cl" x="333.5" y="1884.3">DB-only: lastSyncedAt</text>
<text class="arr" x="593" y="1869.5">→</text>
<rect x="608.5" y="1822" width="256" height="75" rx="6" fill="#0b2518" stroke="#10b981" stroke-width="2"/>
<text class="ct" x="617.5" y="1838" fill="#10b981">DOMAIN MODEL</text>
<text class="cl" x="617.5" y="1855.3">NO annotations</text>
<text class="cl" x="617.5" y="1870">Rich types (Money, Enum)</text>
<text class="cl" x="617.5" y="1884.3">Business logic props</text>
<text class="arr" x="877.5" y="1869.5">→</text>
<rect x="893" y="1822" width="256" height="75" rx="6" fill="#1e1535" stroke="#8b5cf6" stroke-width="2"/>
<text class="ct" x="902" y="1838" fill="#8b5cf6">UI MODEL</text>
<text class="cl" x="902" y="1855.3">Formatted strings</text>
<text class="cl" x="902" y="1870">ImageVector refs</text>
<text class="cl" x="902" y="1884.3">Display-ready values</text>
<text x="44" y="1913" style="font-size:9px;font-weight:bold;fill:#10b981">Shared (2+ features) → :common:domain</text>
<text x="344" y="1913" style="font-size:9px;font-weight:bold;fill:#ec4899">Feature-only → :feature:*/domain</text>
<text x="600" y="1913" style="font-size:9px;fill:#cbd5e1">DTOs &amp; Entities follow their domain model's location</text>
</g>

<g id="error-flow">
<rect x="25" y="1969" width="1150" height="115" rx="10" fill="#0c1324" stroke="#ef4444" stroke-width="2"/>
<text x="44" y="1993" style="font-size:14.5px;font-weight:bold;fill:#ef4444">ERROR FLOW:   Network  →  Mapper  →  Data  →  Domain  →  ViewModel  →  UI</text>
<rect x="34" y="2007" width="174" height="58" rx="5" fill="#350f12" stroke="#ef4444" stroke-width="2"/>
<text class="et" x="40" y="2018" fill="#ef4444">NETWORK</text>
<text class="el" x="40" y="2033">IOException</text>
<text class="el" x="40" y="2047">HttpException</text>
<text class="arr2" x="217" y="2040">→</text>
<rect x="225.5" y="2007" width="174" height="58" rx="5" fill="#2e1c0b" stroke="#fb923c" stroke-width="2"/>
<text class="et" x="231.5" y="2018" fill="#fb923c">CORE</text>
<text class="el" x="231.5" y="2033">NetworkErrorMapper</text>
<text class="el" x="231.5" y="2047">→ AppException.*</text>
<text class="arr2" x="409" y="2040">→</text>
<rect x="417" y="2007" width="174" height="58" rx="5" fill="#0b2418" stroke="#10b981" stroke-width="2"/>
<text class="et" x="423" y="2018" fill="#10b981">DATA</text>
<text class="el" x="423" y="2033">safeApiCall()</text>
<text class="el" x="423" y="2047">→ Resource.Error</text>
<text class="arr2" x="601" y="2040">→</text>
<rect x="608.5" y="2007" width="174" height="58" rx="5" fill="#111a3a" stroke="#3b82f6" stroke-width="2"/>
<text class="et" x="614.5" y="2018" fill="#3b82f6">DOMAIN</text>
<text class="el" x="614.5" y="2033">UseCase adds</text>
<text class="el" x="614.5" y="2047">ValidationError</text>
<text class="arr2" x="793.5" y="2040">→</text>
<rect x="800.5" y="2007" width="174" height="58" rx="5" fill="#1e1535" stroke="#8b5cf6" stroke-width="2"/>
<text class="et" x="806.5" y="2018" fill="#8b5cf6">VIEWMODEL</text>
<text class="el" x="806.5" y="2033">handleError()</text>
<text class="el" x="806.5" y="2047">→ fieldErrors map</text>
<text class="arr2" x="985.5" y="2040">→</text>
<rect x="992.5" y="2007" width="174" height="58" rx="5" fill="#2c0f22" stroke="#ec4899" stroke-width="2"/>
<text class="et" x="998.5" y="2018" fill="#ec4899">UI</text>
<text class="el" x="998.5" y="2033">AppTextField</text>
<text class="el" x="998.5" y="2047">errorMessage=</text>
</g>

<g id="dependency-direction">
<rect x="25" y="2128" width="1150" height="97" rx="10" fill="#0b1223" stroke="#6b7a90" stroke-width="1.5"/>
<text x="44" y="2149" style="font-size:11.5px;font-weight:bold;fill:#fff">DEPENDENCY DIRECTION  (arrows always point downward)</text>
<text class="dl" x="60.5" y="2168" fill="#8b5cf6">:app</text>
<text class="dr" x="200" y="2168">sees everything</text>
<text class="dl" x="60.5" y="2181" fill="#ec4899">:feature:*</text>
<text class="dr" x="200" y="2181">→  :shared + :common + :core  (NEVER another :feature)</text>
<text class="dl" x="60.5" y="2194" fill="#f59e0b">:shared:*</text>
<text class="dr" x="200" y="2194">→  :common + :core  (NEVER a :feature)</text>
<text class="dl" x="60.5" y="2206.5" fill="#10b981">:common:*</text>
<text class="dr" x="200" y="2206.5">→  :core  (NEVER :shared or :feature)</text>
<text class="dl" x="60.5" y="2219" fill="#06b6d4">:core:*</text>
<text class="dr" x="200" y="2219">→  nothing  (foundation — zero upward deps)</text>
</g>

<g id="note-navigation">
<rect x="25" y="2264" width="550" height="32" rx="5" fill="#2a1b0f" stroke="#fb923c" stroke-width="2"/>
<text x="42" y="2279" style="font-size:8.5px;font-weight:bold;fill:#fff">•  navigation/  lives INSIDE  presentation/</text>
</g>
<g id="note-contract">
<rect x="601" y="2264" width="574" height="32" rx="5" fill="#0b2016" stroke="#10b981" stroke-width="2"/>
<text x="617" y="2279" style="font-size:8.5px;font-weight:bold;fill:#fff">•  contract/  impl lives INSIDE  domain/</text>
</g>

<g id="footer">
<text x="40" y="2625" style="font-size:8.8px;fill:#475569">Ramadan Sayed  ·  5-Tier Feature Modularization  ·  navigation/ in presentation/  ·  contract/ in domain/</text>
<rect x="0" y="2636" width="1200" height="4" fill="#10b981"/>
</g>
</svg>
